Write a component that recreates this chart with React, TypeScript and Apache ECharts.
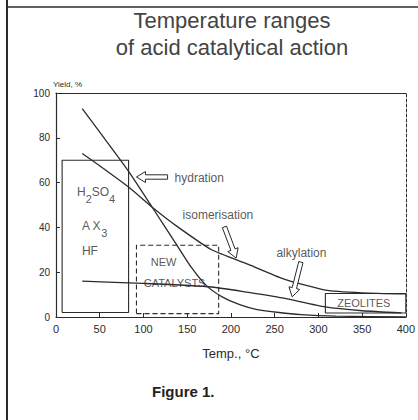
import React, { useEffect, useRef } from "react";
import * as echarts from "echarts";

// ---------- data ----------
const titleLines = ["Temperature ranges", "of acid catalytical action"];
const xAxisName = "Temp., °C";
const yAxisName = "Yield, %";
const caption = "Figure 1.";

const xMin = 0;
const xMax = 400;
const xStep = 50;
const yMin = 0;
const yMax = 100;
const yStep = 20;

// curves [temperature °C, yield %]
const hydration = [
  [30, 93], [50, 82.5], [83, 65], [110, 49], [140, 31], [155, 22], [172, 14],
  [190, 9], [210, 5.5], [230, 3.3], [255, 2], [280, 1.1], [320, 0.4], [400, 0],
];
const isomerisation = [
  [30, 73], [50, 67.5], [83, 58], [110, 49], [140, 40], [178, 30], [220, 23.5],
  [260, 17], [308, 12], [350, 10.8], [400, 10.3],
];
const alkylation = [
  [30, 16], [100, 15], [178, 13.4], [220, 11], [259, 8.5], [308, 4.5], [350, 2.8], [395, 1.8],
];

// catalyst ranges (boxes) [x, y] corners
const acidBox = [[7, 2], [83, 2], [83, 70], [7, 70], [7, 2]];
const newCatalystBox = [[92, 1.5], [186, 1.5], [186, 32], [92, 32], [92, 1.5]];
const zeoliteBox = [[308, 1.8], [400, 1.8], [400, 10.5], [308, 10.5], [308, 1.8]];

// annotation texts anchored in data coordinates
const leftTexts = [
  { text: "{n|H}{s|2}{n|SO}{s|4}", at: [24, 55.8] },
  { text: "{n|A X}{s|3}", at: [29.6, 40.6] },
  { text: "{n|HF}", at: [29.6, 29.5] },
  { text: "{n|hydration}", at: [135.6, 62] },
  { text: "{n|isomerisation}", at: [144.7, 45.5] },
  { text: "{n|alkylation}", at: [252, 28.6] },
];
const centerTexts = [
  { text: "NEW", at: [123, 24.5] },
  { text: "CATALYSTS", at: [135.6, 15.2] },
  { text: "ZEOLITES", at: [352, 6.25] },
];

// hollow arrows: [tailX, tailY, tipX, tipY]
const arrows = [
  [127.6, 62.5, 92, 62.5],
  [192.6, 40.2, 206, 26.3],
  [280, 24.5, 270, 9],
];

const INK = "#2b2b2b";
const FONT = "'Liberation Sans', Arial, sans-serif";

export default function App() {
  const ref = useRef<HTMLDivElement>(null);

  useEffect(() => {
    if (!ref.current) return;
    const chart = echarts.init(ref.current, undefined, { renderer: "svg" });

    const curve = (name: string, data: number[][]) => ({
      name,
      type: "line",
      data,
      symbol: "none",
      smooth: 0.2,
      clip: false,
      lineStyle: { color: INK, width: 1.3 },
      z: 3,
    });
    const box = (name: string, data: number[][], dashed: boolean) => ({
      name,
      type: "line",
      data,
      symbol: "none",
      clip: false,
      lineStyle: { color: INK, width: 1.1, type: dashed ? [5, 3] : "solid" },
      z: 2,
    });

    const option: any = {
      animation: false,
      backgroundColor: "#ffffff",
      textStyle: { fontFamily: FONT },
      title: {
        text: titleLines.join("\n"),
        left: 232,
        top: 7,
        padding: 0,
        textAlign: "center",
        textStyle: {
          fontFamily: FONT,
          fontSize: 22,
          fontWeight: "normal",
          color: "#444",
          lineHeight: 27,
        },
      },
      grid: { left: 56, top: 93, width: 351, height: 224, containLabel: false },
      xAxis: [
        {
          type: "value",
          min: xMin,
          max: xMax,
          interval: xStep,
          name: xAxisName,
          nameLocation: "middle",
          nameGap: 30,
          nameTextStyle: { fontFamily: FONT, fontSize: 13, color: INK },
          axisLine: { show: true, lineStyle: { color: INK, width: 1.2 } },
          axisTick: { show: true, inside: true, length: 4, lineStyle: { color: INK } },
          axisLabel: { fontFamily: FONT, fontSize: 11, color: INK, margin: 6 },
          splitLine: { show: false },
        },
        {
          type: "value",
          position: "top",
          min: xMin,
          max: xMax,
          axisLine: { show: true, onZero: false, lineStyle: { color: INK, width: 1.2 } },
          axisTick: { show: false },
          axisLabel: { show: false },
          splitLine: { show: false },
        },
      ],
      yAxis: [
        {
          type: "value",
          min: yMin,
          max: yMax,
          interval: yStep,
          name: yAxisName,
          nameLocation: "end",
          nameGap: 5,
          nameTextStyle: { fontFamily: FONT, fontSize: 8, color: INK, align: "left", padding: [0, 0, 0, -3] },
          axisLine: { show: true, lineStyle: { color: INK, width: 1.2 } },
          axisTick: { show: true, inside: true, length: 4, lineStyle: { color: INK } },
          axisLabel: { fontFamily: FONT, fontSize: 10, color: INK, margin: 6 },
          splitLine: { show: false },
        },
        {
          type: "value",
          position: "right",
          min: yMin,
          max: yMax,
          axisLine: { show: true, onZero: false, lineStyle: { color: INK, width: 1, type: [3, 2] } },
          axisTick: { show: false },
          axisLabel: { show: false },
          splitLine: { show: false },
        },
      ],
      series: [
        curve("hydration", hydration),
        curve("isomerisation", isomerisation),
        curve("alkylation", alkylation),
        box("acids", acidBox, false),
        box("new catalysts", newCatalystBox, true),
        box("zeolites", zeoliteBox, false),
        {
          name: "left texts",
          type: "scatter",
          symbolSize: 0,
          silent: true,
          z: 5,
          data: leftTexts.map((t) => ({
            value: t.at,
            label: {
              show: true,
              position: "right",
              distance: 0,
              formatter: t.text,
              rich: {
                n: { fontFamily: FONT, fontSize: 12, color: INK },
                s: { fontFamily: FONT, fontSize: 11, color: INK, padding: [14, 0, 0, 0] },
              },
            },
          })),
        },
        {
          name: "center texts",
          type: "scatter",
          symbolSize: 0,
          silent: true,
          z: 5,
          data: centerTexts.map((t) => ({
            value: t.at,
            label: {
              show: true,
              position: "inside",
              formatter: t.text,
              fontFamily: FONT,
              fontSize: 11,
              color: INK,
            },
          })),
        },
        {
          name: "arrows",
          type: "custom",
          clip: false,
          z: 6,
          data: arrows,
          renderItem: (_params: any, api: any) => {
            const tail = api.coord([api.value(0), api.value(1)]);
            const tip = api.coord([api.value(2), api.value(3)]);
            const dx = tip[0] - tail[0];
            const dy = tip[1] - tail[1];
            const len = Math.sqrt(dx * dx + dy * dy) || 1;
            const ux = dx / len;
            const uy = dy / len;
            const px = -uy;
            const py = ux;
            const shaft = 2.2;
            const head = 5.5;
            const headLen = 9;
            const nx = tip[0] - ux * headLen;
            const ny = tip[1] - uy * headLen;
            const pts = [
              [tail[0] + px * shaft, tail[1] + py * shaft],
              [nx + px * shaft, ny + py * shaft],
              [nx + px * head, ny + py * head],
              [tip[0], tip[1]],
              [nx - px * head, ny - py * head],
              [nx - px * shaft, ny - py * shaft],
              [tail[0] - px * shaft, tail[1] - py * shaft],
            ];
            return {
              type: "polygon",
              shape: { points: pts },
              style: { fill: "#ffffff", stroke: INK, lineWidth: 1 },
            };
          },
        },
      ],
      graphic: [
        { type: "line", shape: { x1: 7, y1: 0, x2: 7, y2: 420 }, style: { stroke: INK, lineWidth: 2 } },
        { type: "line", shape: { x1: 7, y1: 7, x2: 418, y2: 7 }, style: { stroke: INK, lineWidth: 1.6 } },
        {
          type: "text",
          left: 152,
          top: 384,
          style: { text: caption, fontFamily: FONT, fontSize: 15, fontWeight: "bold", fill: "#222" },
        },
      ],
    };

    chart.setOption(option);
    return () => chart.dispose();
  }, []);

  return (
    <div
      ref={ref}
      style={{ position: "fixed", left: 0, top: 0, width: 418, height: 420, background: "#fff" }}
    />
  );
}
